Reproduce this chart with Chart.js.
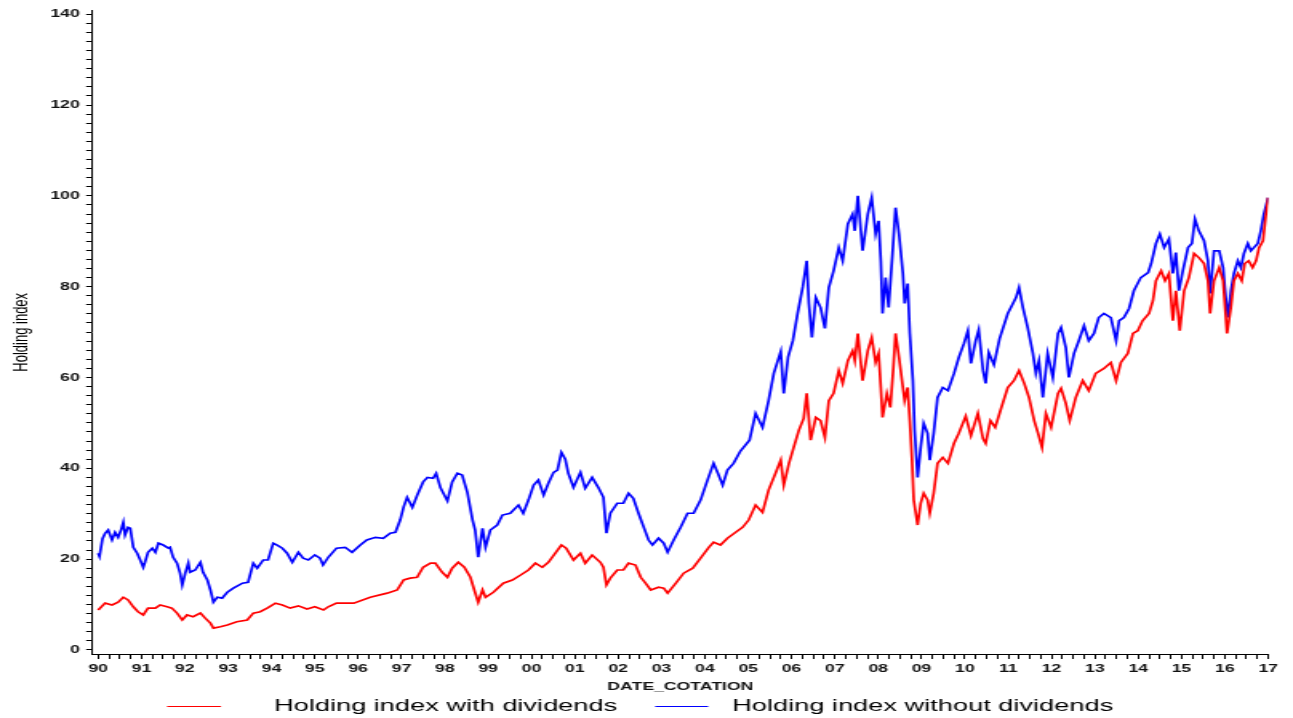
<!DOCTYPE html>
<html>
<head>
<meta charset="utf-8">
<script src="https://cdn.jsdelivr.net/npm/chart.js@4.4.1/dist/chart.umd.min.js"></script>
<style>
  html, body { margin: 0; padding: 0; background: #fff; overflow: hidden; }
  #wrap { position: absolute; left: 0; top: 0; width: 808px; height: 718px;
          transform: scaleX(1.60025); transform-origin: 0 0; }
  canvas { display: block; }
</style>
</head>
<body>
<div id="wrap"><canvas id="c" width="808" height="718"></canvas></div>
<script>
// ---- data (decimal years, index values) ----
const seriesNames = ["Holding index with dividends", "Holding index without dividends"];
const xTitle = "DATE_COTATION";
const yTitle = "Holding index";
const yTickLabels = [0, 20, 40, 60, 80, 100, 120, 140];

const blueDates = [1990.00,1990.03,1990.10,1990.16,1990.23,1990.32,1990.39,1990.46,1990.53,1990.58,1990.62,1990.69,1990.74,1990.81,1990.90,1990.97,
1991.04,1991.08,1991.15,1991.25,1991.32,1991.39,1991.50,1991.62,1991.66,1991.73,1991.82,1991.89,1991.94,
1992.01,1992.08,1992.12,1992.24,1992.36,1992.42,1992.52,1992.59,1992.66,1992.75,1992.86,1992.98,
1993.12,1993.33,1993.46,1993.58,1993.67,1993.81,1993.92,
1994.04,1994.13,1994.25,1994.36,1994.48,1994.62,1994.73,1994.85,
1995.00,1995.12,1995.19,1995.31,1995.50,1995.70,1995.86,
1996.05,1996.20,1996.40,1996.58,1996.74,1996.86,1996.97,
1997.05,1997.13,1997.25,1997.36,1997.50,1997.60,1997.73,1997.80,1997.90,
1998.06,1998.17,1998.29,1998.40,1998.52,1998.64,1998.70,1998.77,1998.87,1998.94,
1999.05,1999.21,1999.33,1999.51,1999.70,1999.81,1999.93,
2000.05,2000.16,2000.28,2000.39,2000.51,2000.60,2000.69,2000.78,2000.85,2000.97,
2001.13,2001.24,2001.40,2001.54,2001.66,2001.73,2001.82,2001.98,
2002.12,2002.24,2002.35,2002.47,2002.59,2002.70,2002.79,2002.93,
2003.05,2003.14,2003.28,2003.44,2003.60,2003.74,2003.90,
2004.06,2004.20,2004.30,2004.41,2004.52,2004.66,2004.82,
2005.03,2005.17,2005.33,2005.47,2005.59,2005.75,2005.82,2005.92,
2006.03,2006.14,2006.26,2006.35,2006.40,2006.47,2006.56,2006.67,2006.77,2006.86,2006.97,
2007.09,2007.18,2007.30,2007.41,2007.46,2007.53,2007.64,2007.76,2007.85,2007.94,
2008.01,2008.06,2008.10,2008.17,2008.24,2008.33,2008.40,2008.48,2008.57,2008.61,2008.68,2008.73,2008.80,2008.84,2008.91,2008.98,
2009.05,2009.14,2009.19,2009.28,2009.37,2009.49,2009.61,2009.75,2009.86,2009.98,
2010.07,2010.14,2010.25,2010.32,2010.42,2010.48,2010.55,2010.67,2010.80,2010.99,
2011.11,2011.18,2011.25,2011.34,2011.45,2011.57,2011.64,2011.71,2011.80,2011.91,
2012.03,2012.15,2012.22,2012.33,2012.40,2012.52,2012.63,2012.75,2012.86,2012.98,
2013.09,2013.21,2013.37,2013.49,2013.56,2013.67,2013.79,2013.90,
2014.06,2014.23,2014.30,2014.41,2014.50,2014.60,2014.71,2014.80,2014.87,2014.94,
2015.03,2015.15,2015.24,2015.31,2015.40,2015.52,2015.61,2015.66,2015.75,2015.87,2015.96,
2016.00,2016.07,2016.14,2016.21,2016.30,2016.37,2016.44,2016.53,2016.60,2016.67,2016.76,2016.83,2016.90,2017.00];
const blueValues = [21.3,20.6,24.5,25.7,26.4,24.2,25.9,24.8,26.5,28.1,25.3,27.0,26.8,22.6,21.3,19.8,
18.2,19.3,21.5,22.4,21.5,23.5,23.1,22.4,22.6,20.4,19.1,16.9,14.3,
16.9,19.1,17.1,17.6,19.3,17.1,15.4,13.2,10.5,11.6,11.4,12.7,
13.6,14.7,14.9,19.1,18.0,19.8,19.8,
23.5,23.1,22.4,21.3,19.3,21.5,20.2,19.8,
20.9,20.2,18.7,20.4,22.4,22.6,21.5,
23.1,24.2,24.8,24.6,25.7,25.9,28.6,
31.5,33.6,31.4,34.0,37.0,38.0,37.8,38.9,35.7,
32.8,37.0,38.9,38.5,34.7,28.6,26.4,20.4,26.8,22.6,
26.4,27.5,29.7,30.1,31.9,30.1,33.0,
36.3,37.4,34.1,36.7,39.1,39.6,43.5,42.0,38.9,35.8,
39.1,35.6,38.0,35.8,33.6,25.7,30.1,32.3,
32.3,34.5,33.4,30.1,27.0,24.2,23.1,24.6,
23.5,21.5,24.2,27.0,30.1,30.1,33.0,
37.4,41.1,38.9,36.3,39.6,41.1,43.8,
46.2,52.1,49.0,54.9,60.9,65.7,56.5,64.5,
68.1,74.1,80.0,85.7,76.3,68.8,77.6,75.4,70.8,79.8,83.5,
88.6,85.7,93.8,96.0,92.3,100.0,87.9,96.0,99.6,91.6,
94.5,85.7,74.1,82.0,75.4,87.3,97.4,91.6,82.9,76.3,80.7,69.7,59.3,48.4,38.0,44.6,
49.9,47.7,41.8,47.7,55.6,57.8,57.1,60.9,64.4,67.5,
70.3,63.1,68.1,70.5,61.5,58.7,65.5,62.8,68.5,74.1,
76.3,77.6,79.8,75.4,71.0,65.3,60.9,63.7,55.6,65.3,
60.0,69.7,71.0,66.6,60.0,65.3,68.1,71.4,68.1,69.7,
73.2,74.1,73.2,68.1,72.5,73.2,75.2,79.1,
82.0,83.1,85.1,89.5,91.6,88.6,90.5,82.9,87.5,79.1,
83.5,88.6,89.5,94.9,92.3,90.1,85.7,78.5,87.9,87.9,84.2,
79.8,73.2,79.1,82.9,85.7,84.2,87.3,89.5,87.9,88.6,89.5,92.3,96.0,99.6];

const redDates = [1990.00,1990.16,1990.32,1990.46,1990.58,1990.69,1990.81,1990.92,
1991.04,1991.15,1991.32,1991.43,1991.59,1991.70,1991.82,1991.94,
1992.05,1992.19,1992.36,1992.47,1992.59,1992.66,1992.82,1992.98,
1993.20,1993.44,1993.58,1993.74,1993.90,
1994.09,1994.25,1994.43,1994.62,1994.82,
1995.00,1995.20,1995.31,1995.50,1995.90,
1996.28,1996.67,1996.90,
1997.05,1997.20,1997.36,1997.50,1997.67,1997.78,1997.94,
1998.06,1998.17,1998.31,1998.45,1998.59,1998.68,1998.77,1998.87,1998.94,
1999.12,1999.35,1999.56,1999.75,1999.93,
2000.09,2000.25,2000.39,2000.55,2000.69,2000.80,2000.97,
2001.13,2001.24,2001.40,2001.59,2001.66,2001.73,2001.82,2001.98,
2002.12,2002.24,2002.40,2002.52,2002.63,2002.75,2002.93,
2003.05,2003.14,2003.33,2003.51,2003.72,2003.90,
2004.09,2004.20,2004.36,2004.52,2004.71,2004.87,
2005.01,2005.17,2005.33,2005.47,2005.63,2005.75,2005.82,2005.94,
2006.05,2006.17,2006.28,2006.35,2006.44,2006.56,2006.67,2006.77,2006.86,2006.97,
2007.09,2007.18,2007.30,2007.41,2007.46,2007.53,2007.64,2007.76,2007.85,2007.94,
2008.01,2008.06,2008.10,2008.20,2008.28,2008.35,2008.40,2008.48,2008.57,2008.61,2008.68,2008.73,2008.78,2008.82,2008.91,2008.98,
2009.05,2009.14,2009.19,2009.28,2009.37,2009.49,2009.61,2009.75,2009.86,
2010.02,2010.14,2010.30,2010.42,2010.48,2010.59,2010.70,2010.83,2010.99,
2011.13,2011.25,2011.37,2011.48,2011.60,2011.69,2011.78,2011.87,2011.99,
2012.15,2012.22,2012.33,2012.42,2012.56,2012.72,2012.86,
2013.02,2013.21,2013.37,2013.49,2013.60,2013.76,2013.88,2013.99,
2014.10,2014.25,2014.34,2014.41,2014.53,2014.62,2014.71,2014.80,2014.87,2014.96,
2015.06,2015.17,2015.29,2015.40,2015.52,2015.61,2015.66,2015.75,2015.87,2015.96,
2016.05,2016.14,2016.21,2016.30,2016.39,2016.46,2016.55,2016.64,2016.72,2016.79,2016.88,2016.94,2017.00];
const redValues = [8.8,10.3,9.9,10.5,11.6,11.0,9.5,8.4,
7.7,9.2,9.2,9.9,9.5,9.2,8.1,6.6,
7.7,7.3,8.1,7.0,5.9,4.8,5.1,5.5,
6.2,6.6,8.1,8.4,9.2,
10.3,9.9,9.2,9.7,9.0,
9.5,8.8,9.5,10.3,10.3,
11.6,12.5,13.2,
15.4,15.8,16.0,18.2,19.1,19.1,17.1,
16.0,18.0,19.3,18.2,16.0,13.2,10.5,13.2,11.6,
12.7,14.7,15.4,16.5,17.6,
19.1,18.2,19.3,21.3,23.1,22.4,19.8,
21.3,19.1,20.9,19.3,18.2,14.3,15.8,17.6,
17.6,19.1,18.7,16.0,14.7,13.2,13.8,
13.6,12.5,14.7,16.9,18.0,20.2,
22.6,23.7,23.1,24.6,25.9,27.0,
28.6,31.9,30.3,35.2,38.9,41.8,36.3,41.1,
44.6,48.4,51.0,56.5,46.2,51.2,50.5,46.8,54.9,56.5,
61.5,58.7,63.7,65.9,63.7,69.7,59.3,65.9,68.8,63.3,
65.3,57.8,51.2,56.5,53.4,62.2,69.7,64.4,57.8,54.9,57.8,50.5,41.8,33.0,27.5,32.3,
34.5,33.0,30.1,34.5,41.1,42.4,41.1,45.5,47.7,
51.5,47.2,52.1,46.5,45.5,50.5,49.0,53.0,57.8,
59.3,61.5,58.7,55.6,50.5,47.7,44.6,52.1,49.0,
56.5,57.6,54.3,50.5,55.6,59.3,57.1,
60.9,62.0,63.3,59.3,63.3,65.3,69.7,70.3,
72.5,74.1,76.9,81.3,83.5,81.3,82.9,72.5,79.1,70.3,
79.1,82.0,87.3,86.4,85.1,81.3,74.1,81.3,84.2,81.3,
69.7,75.4,81.3,82.9,81.3,85.1,85.7,84.2,85.7,88.6,90.1,95.2,99.6];

// ---- chart ----
const toPoints = (xs, ys) => xs.map((x, i) => ({ x: x, y: ys[i] }));

const legendPlugin = {
  id: 'sasLegend',
  afterDraw(chart) {
    const ctx = chart.ctx;
    const y = 706.5;
    const items = [
      { color: '#ff0000', x0: 104.4, x1: 138.1, tx: 171.2, text: seriesNames[0] },
      { color: '#0000ff', x0: 409.4, x1: 442.5, tx: 457.5, text: seriesNames[1] }
    ];
    ctx.save();
    ctx.font = "17px 'Liberation Sans', Arial, sans-serif";
    ctx.textBaseline = 'middle';
    ctx.textAlign = 'left';
    items.forEach(it => {
      ctx.strokeStyle = it.color;
      ctx.lineWidth = 1;
      ctx.beginPath();
      ctx.moveTo(it.x0, y);
      ctx.lineTo(it.x1, y);
      ctx.stroke();
      ctx.fillStyle = '#000';
      ctx.fillText(it.text, it.tx, y);
    });
    ctx.restore();
  }
};

new Chart(document.getElementById('c'), {
  type: 'line',
  data: {
    datasets: [
      { label: seriesNames[0], data: toPoints(redDates, redValues),
        borderColor: '#ff0000', backgroundColor: '#ff0000', borderWidth: 1.7,
        pointRadius: 0, tension: 0, fill: false },
      { label: seriesNames[1], data: toPoints(blueDates, blueValues),
        borderColor: '#0000ff', backgroundColor: '#0000ff', borderWidth: 1.7,
        pointRadius: 0, tension: 0, fill: false }
    ]
  },
  options: {
    responsive: false,
    animation: false,
    devicePixelRatio: 1,
    layout: { padding: { top: 10, right: 15.5, left: 0, bottom: 0 } },
    plugins: { legend: { display: false }, tooltip: { enabled: false } },
    scales: {
      x: {
        type: 'linear',
        min: 1989.87, max: 2017.0,
        afterFit(scale) { scale.height = 64; },
        border: { display: true, color: '#000', width: 1 },
        grid: { display: true, drawOnChartArea: false, drawTicks: true, tickLength: 5, color: '#000', lineWidth: 1 },
        ticks: {
          stepSize: 0.25, autoSkip: false, maxRotation: 0, minRotation: 0, includeBounds: false,
          padding: 3, color: '#111',
          font: { family: "'Liberation Sans', Arial, sans-serif", size: 11, weight: 'bold' },
          callback(v) {
            const r = Math.round(v * 100) / 100;
            if (Math.abs(r - Math.round(r)) > 1e-6) return '';
            return String(Math.round(r)).slice(-2);
          }
        },
        title: { display: true, text: xTitle, color: '#111', padding: { top: 0, bottom: 24.8 },
                 font: { family: "'Liberation Sans', Arial, sans-serif", size: 11, weight: 'bold' } }
      },
      y: {
        type: 'linear',
        min: -0.9, max: 140.8,
        afterFit(scale) { scale.width = 57.8; },
        border: { display: true, color: '#000', width: 1 },
        grid: { display: true, drawOnChartArea: false, drawTicks: true, tickLength: 4, color: '#000', lineWidth: 1 },
        ticks: {
          stepSize: 2, autoSkip: false, includeBounds: false, padding: 4, color: '#111',
          font: { family: "'Liberation Sans', Arial, sans-serif", size: 11, weight: 'bold' },
          callback(v) {
            const r = Math.round(v);
            return (Math.abs(v - r) < 1e-6 && yTickLabels.includes(r)) ? String(r) : '';
          }
        },
        title: { display: true, text: yTitle, color: '#000', padding: { top: 6, bottom: 0 },
                 font: { family: "'Liberation Sans Narrow', 'Liberation Sans', Arial, sans-serif", size: 13 } }
      }
    }
  },
  plugins: [legendPlugin]
});
</script>
</body>
</html>
